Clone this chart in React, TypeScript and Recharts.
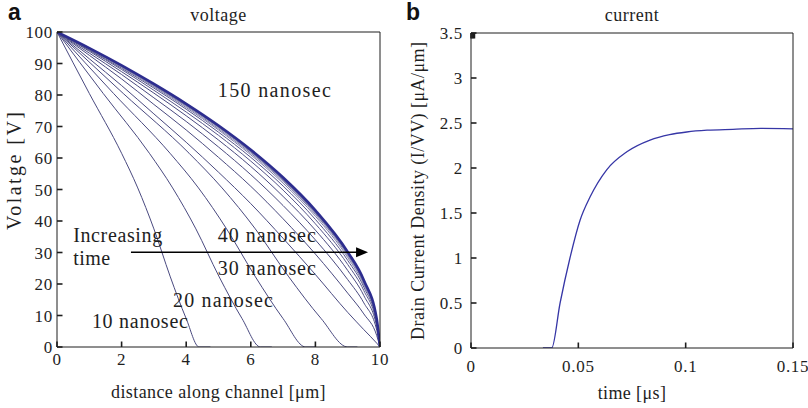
import React from 'react';
import { LineChart, Line, XAxis, YAxis, ReferenceLine, ReferenceDot, Label } from 'recharts';

const serif = 'Liberation Serif';
const sans = 'Liberation Sans';
const ink = '#1e1e1e';

// ---- panel a: voltage along the channel, one curve every 10 ns ----
const distanceTicks = [0, 2, 4, 6, 8, 10];
const voltageTicks = [0, 10, 20, 30, 40, 50, 60, 70, 80, 90, 100];

// early curves (front still inside the channel)
const frontVolts = [100, 80.5, 61.5, 50.5, 37.5, 22.5, 9, 0, 0];
const x10 = [0, 1, 2, 2.5, 3, 3.5, 4, 4.4, 4.75];
const x20 = [0, 1.43, 2.86, 3.58, 4.3, 5.01, 5.73, 6.3, 6.65];
const x30 = [0, 1.75, 3.5, 4.38, 5.25, 6.13, 7.0, 7.7, 8.0];
const x40 = [0, 2.05, 4.09, 5.11, 6.14, 7.16, 8.18, 9.0, 9.3];

// later curves, sampled on a common grid
const distGrid = [0, 1, 2, 3, 4, 5, 6, 7, 8, 9, 9.5, 9.9, 10];
const v50 = [100, 91.5, 83.0, 74.0, 65.0, 55.5, 45.5, 34.5, 23.0, 11.0, 5.5, 1.2, 0];
const v60 = [100, 92.6, 85.1, 77.0, 68.9, 60.2, 51.0, 40.7, 29.5, 17.1, 10.5, 3.6, 0];
const v70 = [100, 93.3, 86.5, 79.1, 71.6, 63.5, 54.7, 44.9, 34.0, 21.4, 14.0, 5.3, 0];
const v80 = [100, 93.9, 87.4, 80.6, 73.4, 65.7, 57.3, 47.8, 37.1, 24.3, 16.3, 6.4, 0];
const v90 = [100, 94.2, 88.1, 81.5, 74.6, 67.2, 59.0, 49.8, 39.1, 26.2, 17.9, 7.2, 0];
const v100 = [100, 94.4, 88.5, 82.2, 75.5, 68.2, 60.2, 51.1, 40.5, 27.5, 19.0, 7.7, 0];
const v110 = [100, 94.6, 88.8, 82.6, 76.0, 68.9, 61.0, 52.0, 41.5, 28.4, 19.7, 8.1, 0];
const v120 = [100, 94.7, 89.0, 82.9, 76.4, 69.3, 61.5, 52.6, 42.1, 29.0, 20.2, 8.3, 0];
const v130 = [100, 94.8, 89.1, 83.1, 76.7, 69.7, 61.9, 53.0, 42.5, 29.4, 20.5, 8.5, 0];
const v140 = [100, 94.8, 89.2, 83.2, 76.8, 69.9, 62.1, 53.2, 42.8, 29.6, 20.7, 8.6, 0];
const v150 = [100, 94.9, 89.4, 83.5, 77.2, 70.3, 62.6, 53.8, 43.4, 30.2, 21.2, 8.8, 0];

// ---- panel b: drain current vs time ----
const timeTicks = [0, 0.05, 0.1, 0.15];
const currentTicks = [0, 0.5, 1, 1.5, 2, 2.5, 3, 3.5];
const timeUs = [0.0335, 0.0376, 0.0415, 0.0461, 0.0508, 0.0555, 0.0632, 0.0726, 0.0834, 0.0925, 0.1005, 0.11, 0.122, 0.135, 0.15];
const currentDensity = [0, 0, 0.5, 1.0, 1.42, 1.68, 1.98, 2.18, 2.31, 2.37, 2.4, 2.42, 2.43, 2.44, 2.435];

const pts = (xs: number[], vs: number[]) => xs.map((x, i) => ({ x, v: vs[i] }));

const voltageSeries = [
  { key: 't10', data: pts(x10, frontVolts), color: '#4a4a80', w: 1 },
  { key: 't20', data: pts(x20, frontVolts), color: '#4a4a80', w: 1 },
  { key: 't30', data: pts(x30, frontVolts), color: '#4a4a80', w: 1 },
  { key: 't40', data: pts(x40, frontVolts), color: '#4a4a80', w: 1 },
  { key: 't50', data: pts(distGrid, v50), color: '#4a4a80', w: 1 },
  { key: 't60', data: pts(distGrid, v60), color: '#4a4a80', w: 1 },
  { key: 't70', data: pts(distGrid, v70), color: '#4a4a80', w: 1 },
  { key: 't80', data: pts(distGrid, v80), color: '#4a4a80', w: 1 },
  { key: 't90', data: pts(distGrid, v90), color: '#55558a', w: 1 },
  { key: 't100', data: pts(distGrid, v100), color: '#55558a', w: 1 },
  { key: 't110', data: pts(distGrid, v110), color: '#7c7ca8', w: 1 },
  { key: 't120', data: pts(distGrid, v120), color: '#7c7ca8', w: 1 },
  { key: 't130', data: pts(distGrid, v130), color: '#7c7ca8', w: 1 },
  { key: 't140', data: pts(distGrid, v140), color: '#6a6aa0', w: 1.2 },
  { key: 't150', data: pts(distGrid, v150), color: '#2d2d8f', w: 2.6 },
];

const TL = 5.5; // inward tick length, px
const TW = 1.6; // tick stroke width
const labelFont = { fontSize: 17, fill: ink, style: { fontFamily: serif }, letterSpacing: 0.7 };

// tick renderers: matlab style ticks pointing into the box, label outside
const bottomTick = (gap: number) => (p: any) => (
  <g>
    <line x1={p.x} x2={p.x} y1={p.y - gap} y2={p.y - gap - TL} stroke={ink} strokeWidth={TW} />
    <text x={p.x} y={p.y} dy="0.71em" textAnchor="middle" {...labelFont}>{String(p.payload.value)}</text>
  </g>
);
const leftTick = (gap: number) => (p: any) => (
  <g>
    <line x1={p.x + gap} x2={p.x + gap + TL} y1={p.y} y2={p.y} stroke={ink} strokeWidth={TW} />
    <text x={p.x} y={p.y} dy="0.355em" textAnchor="end" {...labelFont}>{String(p.payload.value)}</text>
  </g>
);
const topTick = (p: any) => <line x1={p.x} x2={p.x} y1={p.y} y2={p.y + TL} stroke={ink} strokeWidth={TW} />;
const rightTick = (p: any) => <line x1={p.x} x2={p.x - TL} y1={p.y} y2={p.y} stroke={ink} strokeWidth={TW} />;

const note = (text: string, len: number) => (p: any) => (
  <text x={p.cx} y={p.cy} fontSize={20} fill={ink} style={{ fontFamily: serif }} textLength={len} lengthAdjust="spacing">
    {text}
  </text>
);

const arrowHead = (p: any) => (
  <polygon points={`${p.cx},${p.cy} ${p.cx - 12},${p.cy - 5} ${p.cx - 12},${p.cy + 5}`} fill="#000" />
);

const header = (letter: string, title: string, letterX: number) => (p: any) => {
  const vb = p.viewBox || {};
  return (
    <g>
      <text x={letterX} y={20} style={{ fontFamily: sans }} fontWeight="bold" fontSize={23} fill="#111">{letter}</text>
      <text x={vb.x + vb.width / 2} y={21} textAnchor="middle" style={{ fontFamily: serif }} fontSize={18} fill={ink} letterSpacing={0.5}>{title}</text>
    </g>
  );
};

const xTitle = (text: string, dy: number) => (p: any) => {
  const vb = p.viewBox || {};
  return (
    <text x={vb.x + vb.width / 2} y={vb.y + dy} textAnchor="middle" style={{ fontFamily: serif }} fontSize={18} fill={ink} letterSpacing={0.4}>
      {text}
    </text>
  );
};

const yTitle = (text: string, bx: number, cy: number, len: number, size: number) => () => (
  <text x={bx} y={cy} transform={`rotate(-90, ${bx}, ${cy})`} textAnchor="middle" style={{ fontFamily: serif }} fontSize={size} fill={ink} textLength={len} lengthAdjust="spacing">
    {text}
  </text>
);

const VoltageChart = () => (
  <LineChart width={400} height={408} margin={{ top: 31, right: 19, bottom: 11, left: 12 }} style={{ fontFamily: serif }}>
    <XAxis type="number" dataKey="x" domain={[0, 10]} ticks={distanceTicks} interval={0} allowDataOverflow
      height={50} tickSize={0} tickLine={false} tickMargin={6} stroke={ink} tick={bottomTick(6)}>
      <Label content={xTitle('distance along channel [μm]', 51)} />
    </XAxis>
    <XAxis xAxisId="top" orientation="top" type="number" domain={[0, 10]} ticks={distanceTicks} interval={0}
      height={1} tickSize={0} tickMargin={0} tickLine={false} tick={topTick} stroke={ink}>
      <Label content={header('a', 'voltage', 8)} />
    </XAxis>
    <YAxis type="number" dataKey="v" domain={[0, 100]} ticks={voltageTicks} interval={0} allowDataOverflow
      width={45} tickSize={0} tickLine={false} tickMargin={4} stroke={ink} tick={leftTick(4)}>
      <Label content={yTitle('Volatge [V]', 21, 171, 118, 20)} />
    </YAxis>
    <YAxis yAxisId="right" orientation="right" type="number" domain={[0, 100]} ticks={voltageTicks} interval={0}
      width={1} tickSize={0} tickMargin={0} tickLine={false} tick={rightTick} stroke={ink} />
    {voltageSeries.map((s) => (
      <Line key={s.key} data={s.data} dataKey="v" type="monotone" stroke={s.color} strokeWidth={s.w}
        dot={false} activeDot={false} isAnimationActive={false} />
    ))}
    <ReferenceLine segment={[{ x: 2.29, y: 30.06 }, { x: 9.3, y: 30.06 }]} stroke="#000" strokeWidth={1.5} />
    <ReferenceDot x={9.63} y={30.06} shape={arrowHead} />
    <ReferenceDot x={4.98} y={79.4} shape={note('150 nanosec', 113)} />
    <ReferenceDot x={4.98} y={33.4} shape={note('40 nanosec', 98)} />
    <ReferenceDot x={4.98} y={22.9} shape={note('30 nanosec', 98)} />
    <ReferenceDot x={3.59} y={12.8} shape={note('20 nanosec', 100)} />
    <ReferenceDot x={1.08} y={6.0} shape={note('10 nanosec', 96)} />
    <ReferenceDot x={0.5} y={33.4} shape={note('Increasing', 89)} />
    <ReferenceDot x={0.5} y={26.0} shape={note('time', 37)} />
  </LineChart>
);

const currentData = pts(timeUs, currentDensity);

const CurrentChart = () => (
  <LineChart width={408} height={408} data={currentData} margin={{ top: 32, right: 14, bottom: 10, left: 20 }} style={{ fontFamily: serif }}>
    <XAxis type="number" dataKey="x" domain={[0, 0.15]} ticks={timeTicks} interval={0} allowDataOverflow
      height={50} tickSize={0} tickLine={false} tickMargin={12} stroke={ink} tick={bottomTick(12)}>
      <Label content={xTitle('time [μs]', 51)} />
    </XAxis>
    <XAxis xAxisId="top" orientation="top" type="number" domain={[0, 0.15]} ticks={timeTicks} interval={0}
      height={1} tickSize={0} tickMargin={0} tickLine={false} tick={topTick} stroke={ink}>
      <Label content={header('b', 'current', 6)} />
    </XAxis>
    <YAxis type="number" domain={[0, 3.5]} ticks={currentTicks} interval={0} allowDataOverflow
      width={51} tickSize={0} tickLine={false} tickMargin={8} stroke={ink} tick={leftTick(8)}>
      <Label content={yTitle('Drain Current Density (I/VV) [μA/μm]', 24, 191, 298, 18)} />
    </YAxis>
    <YAxis yAxisId="right" orientation="right" type="number" domain={[0, 3.5]} ticks={currentTicks} interval={0}
      width={1} tickSize={0} tickMargin={0} tickLine={false} tick={rightTick} stroke={ink} />
    <Line dataKey="v" type="monotone" stroke="#3636a6" strokeWidth={1.3} dot={false} activeDot={false}
      isAnimationActive={false} />
  </LineChart>
);

export default function App() {
  return (
    <div style={{ position: 'absolute', left: 0, top: 0, width: 808, height: 408, background: '#fff', fontFamily: serif }}>
      <div style={{ position: 'absolute', left: 0, top: 0 }}>
        <VoltageChart />
      </div>
      <div style={{ position: 'absolute', left: 400, top: 0 }}>
        <CurrentChart />
      </div>
    </div>
  );
}
